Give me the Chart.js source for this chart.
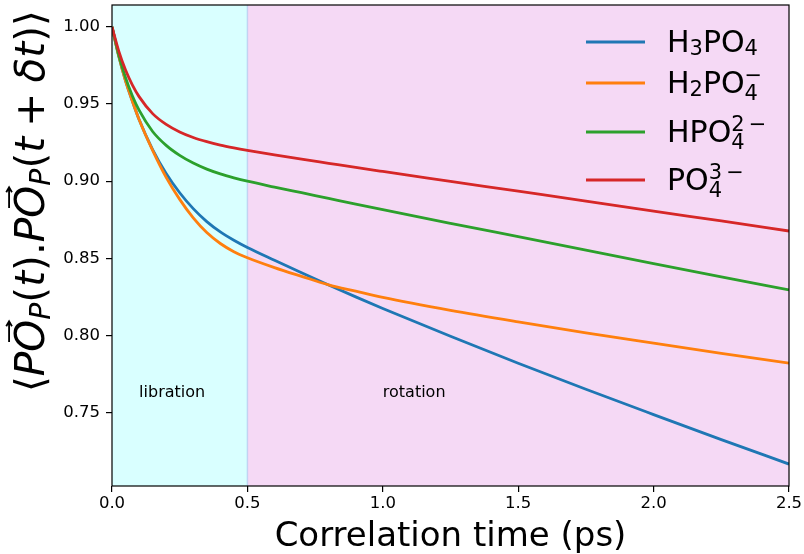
<!DOCTYPE html>
<html>
<head>
<meta charset="utf-8">
<script src="https://cdn.jsdelivr.net/npm/chart.js@4.4.1/dist/chart.umd.min.js"></script>
<style>
  html, body { margin: 0; padding: 0; background: #fff; }
</style>
</head>
<body>
<canvas id="corrChart" width="804" height="554"></canvas>
<script>
// --- Datos ---
const times = [0, 0.025, 0.05, 0.075, 0.1, 0.15, 0.2, 0.25, 0.3, 0.35, 0.4, 0.45, 0.5,
               0.6, 0.7, 0.8, 0.9, 1.0, 1.25, 1.5, 1.75, 2.0, 2.25, 2.5];
const h3po4 = [1.000, 0.981, 0.965, 0.952, 0.940, 0.9205, 0.905, 0.8925, 0.8822, 0.8738, 0.8671, 0.8617, 0.857,
               0.8487, 0.8406, 0.8327, 0.825, 0.8175, 0.7995, 0.782, 0.7651, 0.7487, 0.7325, 0.7166];
const h2po4 = [1.000, 0.981, 0.965, 0.952, 0.940, 0.920, 0.9025, 0.8882, 0.8762, 0.8667, 0.8596, 0.8543, 0.8504,
               0.844, 0.8383, 0.8328, 0.8287, 0.8247, 0.8163, 0.8088, 0.8017, 0.7950, 0.7884, 0.782];
const hpo4 = [1.000, 0.9817, 0.9671, 0.9554, 0.946, 0.9322, 0.9232, 0.9167, 0.9117, 0.9078, 0.9047, 0.9022, 0.900,
              0.8962, 0.8925, 0.8888, 0.8851, 0.8815, 0.8727, 0.8640, 0.8553, 0.8466, 0.8380, 0.8295];
const po4 = [1.000, 0.9843, 0.972, 0.9624, 0.9548, 0.9438, 0.9368, 0.9319, 0.9283, 0.9256, 0.9234, 0.9216, 0.920,
             0.9171, 0.9143, 0.9116, 0.9089, 0.9063, 0.8999, 0.8935, 0.8871, 0.8806, 0.8742, 0.8677];

const seriesColors = ['#1f77b4', '#ff7f0e', '#2ca02c', '#d62728'];
const regions = [
    { from: 0, to: 0.5, color: 'rgba(0, 255, 255, 0.15)', label: 'libration', labelX: 0.1 },
    { from: 0.5, to: 2.5, color: 'rgba(191, 0, 191, 0.15)', label: 'rotation', labelX: 1.0 }
];
const regionLabelY = 0.76;
const yMin = 0.7024, yMax = 1.0142;

const FONT = '"DejaVu Sans", sans-serif';

// Etiquetas con subíndices / superíndices (texto por tramos)
const legendRuns = [
    [{ t: 'H' }, { t: '3', s: 0.7, dy: 0.1 }, { t: 'PO' }, { t: '4', s: 0.7, dy: 0.1 }],
    [{ t: 'H' }, { t: '2', s: 0.7, dy: 0.1 }, { t: 'PO' }, { t: '4', s: 0.7, dy: 0.22, hold: true }, { t: '\u2212', s: 0.7, dy: -0.38 }],
    [{ t: 'HPO' }, { t: '4', s: 0.7, dy: 0.22, hold: true }, { t: '2', s: 0.7, dy: -0.38 }, { t: '\u2009\u2212', s: 0.7, dy: -0.38 }],
    [{ t: 'PO' }, { t: '4', s: 0.7, dy: 0.22, hold: true }, { t: '3', s: 0.7, dy: -0.38 }, { t: '\u2009\u2212', s: 0.7, dy: -0.38 }]
];
const yTitleRuns = [
    { t: '\u27E8' }, { t: 'P', it: true }, { t: 'O', it: true, vec: true }, { t: 'P', it: true, s: 0.7, dy: 0.15 },
    { t: '(' }, { t: 't', it: true }, { t: ')' }, { t: '.' },
    { t: 'P', it: true }, { t: 'O', it: true, vec: true }, { t: 'P', it: true, s: 0.7, dy: 0.15 },
    { t: '(' }, { t: 't', it: true }, { t: '\u2005+\u2005' }, { t: '\u03B4t', it: true }, { t: ')' }, { t: '\u27E9' }
];

// Dibuja (o mide) una secuencia de tramos de texto
function runsText(ctx, runs, x0, y0, base, draw) {
    let cx = x0, held = 0;
    runs.forEach(r => {
        const size = base * (r.s || 1);
        ctx.font = (r.it ? 'italic ' : '') + size.toFixed(2) + 'px ' + FONT;
        const w = ctx.measureText(r.t).width;
        if (draw) {
            ctx.fillText(r.t, cx, y0 + (r.dy || 0) * base);
            if (r.vec) {
                // flecha de vector sobre la letra
                const ax0 = cx + w * 0.3, ax1 = cx + w * 0.95, ay = y0 - base * 0.86;
                ctx.save();
                ctx.lineWidth = base * 0.045;
                ctx.beginPath();
                ctx.moveTo(ax0, ay); ctx.lineTo(ax1, ay);
                ctx.moveTo(ax1 - base * 0.12, ay - base * 0.07); ctx.lineTo(ax1, ay); ctx.lineTo(ax1 - base * 0.12, ay + base * 0.07);
                ctx.stroke();
                ctx.restore();
            }
        }
        if (r.hold) { held = w; } else { cx += Math.max(w, held); held = 0; }
    });
    return cx - x0;
}

const decorPlugin = {
    id: 'decor',
    beforeDatasetsDraw(chart) {
        const { ctx, chartArea: a, scales: { x, y } } = chart;
        ctx.save();
        regions.forEach(r => {
            const x0 = x.getPixelForValue(r.from), x1 = x.getPixelForValue(r.to);
            ctx.fillStyle = r.color;
            ctx.fillRect(x0, a.top, x1 - x0, a.bottom - a.top);
        });
        // borde de la banda de libración
        const xe = x.getPixelForValue(0.5);
        ctx.strokeStyle = 'rgba(120, 170, 230, 0.35)';
        ctx.lineWidth = 1.5;
        ctx.beginPath(); ctx.moveTo(xe, a.top); ctx.lineTo(xe, a.bottom); ctx.stroke();
        // textos de las regiones
        ctx.fillStyle = '#000';
        ctx.font = '16px ' + FONT;
        ctx.textBaseline = 'alphabetic';
        ctx.textAlign = 'left';
        regions.forEach(r => ctx.fillText(r.label, x.getPixelForValue(r.labelX), y.getPixelForValue(regionLabelY)));
        ctx.restore();
    },
    afterDatasetsDraw(chart) {
        const { ctx, chartArea: a } = chart;
        ctx.save();
        // marco completo
        ctx.strokeStyle = '#000';
        ctx.lineWidth = 1.2;
        ctx.strokeRect(a.left, a.top, a.right - a.left, a.bottom - a.top);

        // leyenda
        const rowY = [37, 78, 127, 175];
        const base = 30;
        ctx.textBaseline = 'alphabetic';
        ctx.textAlign = 'left';
        legendRuns.forEach((runs, i) => {
            const ly = a.top + rowY[i];
            ctx.strokeStyle = seriesColors[i];
            ctx.lineWidth = 2.8;
            ctx.beginPath(); ctx.moveTo(a.right - 203, ly); ctx.lineTo(a.right - 144, ly); ctx.stroke();
            ctx.fillStyle = '#000';
            runsText(ctx, runs, a.right - 122, ly + base * 0.33, base, true);
        });

        // título del eje Y (girado)
        let yBase = 40;
        const total = runsText(ctx, yTitleRuns, 0, 0, yBase, false);
        yBase = yBase * 382 / total;
        ctx.translate(44, 392);
        ctx.rotate(-Math.PI / 2);
        ctx.fillStyle = '#000';
        ctx.strokeStyle = '#000';
        runsText(ctx, yTitleRuns, 0, 0, yBase, true);
        ctx.restore();
    }
};

const names = ['H3PO4', 'H2PO4-', 'HPO4 2-', 'PO4 3-'];
const allSeries = [h3po4, h2po4, hpo4, po4];

new Chart(document.getElementById('corrChart'), {
    type: 'line',
    data: {
        datasets: allSeries.map((vals, i) => ({
            label: names[i],
            data: times.map((t, k) => ({ x: t, y: vals[k] })),
            borderColor: seriesColors[i],
            borderWidth: 2.8,
            pointRadius: 0,
            fill: false,
            cubicInterpolationMode: 'monotone',
            order: -i
        }))
    },
    options: {
        responsive: false,
        animation: false,
        devicePixelRatio: 1,
        layout: { padding: { top: 5, right: 15, left: 0, bottom: 0 } },
        plugins: {
            legend: { display: false },
            tooltip: { enabled: false }
        },
        scales: {
            x: {
                type: 'linear',
                min: 0,
                max: 2.5,
                afterFit: s => { s.height = 68; s.paddingLeft = 0; s.paddingRight = 0; },
                ticks: {
                    stepSize: 0.5,
                    padding: 2,
                    color: '#000',
                    font: { family: FONT, size: 16.5 },
                    callback: v => v.toFixed(1),
                    maxRotation: 0
                },
                grid: { drawOnChartArea: false, drawTicks: true, tickLength: 6, color: '#000', lineWidth: 1.2 },
                border: { display: false },
                title: {
                    display: true,
                    text: 'Correlation time (ps)',
                    color: '#000',
                    font: { family: FONT, size: 34, lineHeight: 1.0 },
                    padding: { top: 0, bottom: 0 }
                }
            },
            y: {
                type: 'linear',
                min: yMin,
                max: yMax,
                afterFit: s => { s.width = 112; s.paddingTop = 0; s.paddingBottom = 0; },
                ticks: {
                    stepSize: 0.05,
                    includeBounds: false,
                    padding: 6,
                    color: '#000',
                    font: { family: FONT, size: 16.5 },
                    callback: v => v.toFixed(2)
                },
                grid: { drawOnChartArea: false, drawTicks: true, tickLength: 6, color: '#000', lineWidth: 1.2 },
                border: { display: false }
            }
        }
    },
    plugins: [decorPlugin]
});
</script>
</body>
</html>
